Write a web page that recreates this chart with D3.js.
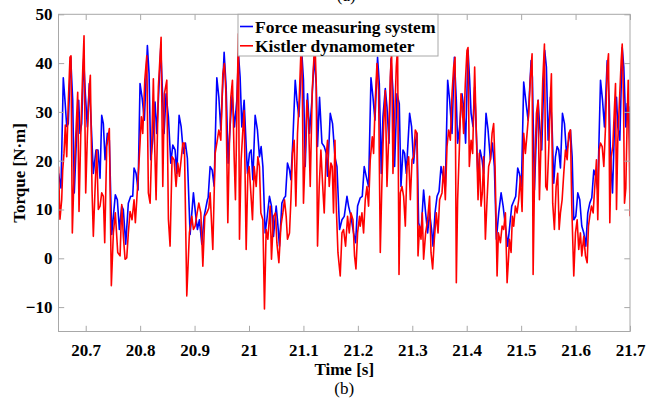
<!DOCTYPE html>
<html>
<head>
<meta charset="utf-8">
<script src="https://cdn.jsdelivr.net/npm/d3@7"></script>
<style>
  html, body { margin: 0; padding: 0; background: #fff; }
  svg { display: block; }
  text { font-family: "Liberation Serif", "Times New Roman", serif; }
</style>
</head>
<body>
<svg id="chart" width="664" height="402"></svg>
<script>
// ---- data: [time s, torque N·m] ----
const forceSystem = [
[20.650,17.4],[20.6546,14.4],[20.6588,37.0],[20.6619,32.4],[20.6651,27.0],[20.6680,27.6],[20.6724,41.2],[20.6761,32.4],[20.6790,13.4],[20.6834,25.6],[20.6871,32.4],[20.6895,25.6],[20.6926,27.6],[20.6963,40.9],[20.6993,33.7],[20.7030,26.9],[20.7066,35.8],[20.7103,27.0],[20.7140,17.4],[20.7189,22.2],[20.7226,22.2],[20.7263,16.4],[20.7294,29.3],[20.7324,27.6],[20.7355,20.2],[20.7397,25.6],[20.7434,24.2],[20.7478,4.9],[20.7544,13.0],[20.7581,12.0],[20.7618,5.9],[20.7662,10.7],[20.7691,10.0],[20.7735,2.9],[20.7783,11.3],[20.7827,12.7],[20.7864,12.7],[20.7888,18.5],[20.7925,17.4],[20.7962,14.0],[20.7998,35.8],[20.8035,33.0],[20.8078,28.3],[20.8133,43.6],[20.8164,37.8],[20.8195,20.2],[20.8232,24.2],[20.8274,32.0],[20.8305,25.6],[20.8335,32.4],[20.8379,43.2],[20.8416,32.4],[20.8440,25.6],[20.8476,33.7],[20.8519,29.0],[20.8563,19.5],[20.8600,23.2],[20.8642,22.2],[20.8673,17.4],[20.8716,29.3],[20.8753,27.0],[20.8795,21.5],[20.8832,23.6],[20.8868,20.5],[20.8918,4.9],[20.8979,13.4],[20.9016,9.3],[20.9052,5.9],[20.9089,7.9],[20.9133,2.9],[20.9176,8.6],[20.9236,12.0],
[20.9249,12.4],[20.9286,18.8],[20.9323,18.1],[20.9359,14.8],[20.9409,37.0],[20.9446,33.0],[20.9482,26.3],[20.9543,42.2],[20.9580,35.1],[20.9617,19.5],[20.9653,27.0],[20.9690,33.4],[20.9733,26.9],[20.9777,32.4],[20.9806,41.9],[20.9837,37.1],[20.9868,26.9],[20.9911,32.4],[20.9948,22.9],[20.9972,17.4],[21.0008,21.5],[21.0040,22.2],[21.0071,16.1],[21.0113,29.3],[21.0155,26.3],[21.0192,20.8],[21.0223,22.9],[21.0255,18.8],[21.0297,5.2],[21.0328,7.9],[21.0376,12.7],[21.0413,10.7],[21.0450,4.5],[21.0499,10.7],[21.0523,7.9],[21.0560,2.5],[21.0604,11.3],[21.0647,12.4],[21.0671,12.7],[21.0707,19.5],[21.0744,18.1],[21.0770,16.1],[21.0806,24.2],[21.0849,36.5],[21.0880,32.4],[21.0917,29.0],[21.0972,41.8],[21.1001,36.5],[21.1033,18.8],[21.1075,33.7],[21.1112,25.6],[21.1156,32.4],[21.1198,41.2],[21.1235,35.8],[21.1259,22.9],[21.1296,33.0],[21.1340,23.6],[21.1382,22.9],[21.1419,21.5],[21.1443,16.8],[21.1493,29.7],[21.1535,27.6],[21.1579,20.8],[21.1616,18.8],[21.1664,5.9],[21.1708,7.9],[21.1750,8.6],[21.1800,12.7],[21.1829,10.7],[21.1873,8.6],[21.1921,5.2],[21.1958,3.2],[21.1995,10.7],[21.2044,12.4],
[21.2081,12.7],[21.2117,18.8],[21.2154,16.8],[21.2197,14.7],[21.2241,37.0],[21.2278,33.0],[21.2314,28.3],[21.2362,41.2],[21.2394,35.8],[21.2430,17.4],[21.2461,29.0],[21.2504,34.8],[21.2535,31.0],[21.2572,23.6],[21.2609,40.9],[21.2645,34.4],[21.2675,18.8],[21.2719,33.7],[21.2761,31.7],[21.2792,14.7],[21.2829,22.2],[21.2859,21.5],[21.2890,17.4],[21.2951,29.7],[21.2987,27.0],[21.3024,19.5],[21.3055,23.6],[21.3086,25.6],[21.3116,7.3],[21.3160,5.2],[21.3208,14.0],[21.3245,9.3],[21.3282,5.2],[21.3318,9.3],[21.3355,5.9],[21.3381,2.5],[21.3418,9.3],[21.3455,12.7],[21.3491,13.7],[21.3528,18.8],[21.3565,16.8],[21.3607,14.7],[21.3650,36.5],[21.3686,32.4],[21.3730,25.6],[21.3773,41.2],[21.3809,32.4],[21.3833,23.6],[21.3870,27.0],[21.3914,33.7],[21.3943,31.0],[21.3980,23.6],[21.4024,42.6],[21.4054,36.5],[21.4080,29.7],[21.4116,27.0],[21.4146,35.1],[21.4177,25.6],[21.4208,16.1],[21.4245,22.2],[21.4282,20.2],[21.4311,17.4],[21.4355,29.7],[21.4392,26.3],[21.4435,20.2],[21.4472,23.6],[21.4508,18.8],[21.4545,3.9],[21.4588,9.3],[21.4632,13.4],[21.4669,10.7],[21.4711,6.6],[21.4753,2.5],
[21.4827,10.7],[21.4863,11.7],[21.4900,12.7],[21.4937,18.5],[21.4968,17.4],[21.5005,14.7],[21.5047,36.1],[21.5084,32.4],[21.5128,28.3],[21.5183,40.5],[21.5207,37.1],[21.5244,14.0],[21.5281,25.6],[21.5312,32.4],[21.5341,27.0],[21.5378,22.2],[21.5433,42.6],[21.5464,39.2],[21.5496,24.2],[21.5538,33.0],[21.5569,26.9],[21.5599,15.4],[21.5630,20.8],[21.5661,22.9],[21.5691,22.2],[21.5722,18.5],[21.5759,29.7],[21.5796,27.6],[21.5833,21.5],[21.5864,23.6],[21.5906,26.3],[21.5937,20.8],[21.5967,7.9],[21.6004,8.6],[21.6041,13.4],[21.6077,12.0],[21.6114,6.6],[21.6151,5.2],[21.6188,2.5],[21.6224,9.3],[21.6261,11.3],[21.6298,12.4],[21.6335,18.1],[21.6371,16.8],[21.6408,14.0],[21.6458,36.5],[21.6495,32.4],[21.6531,26.9],[21.6581,40.5],[21.6618,32.4],[21.6642,20.8],[21.6679,13.4],[21.6715,26.9],[21.6752,33.0],[21.6776,26.9],[21.6813,24.2],[21.6857,43.2],[21.6886,39.2],[21.6923,26.9],[21.6949,31.7],[21.6978,31.0],[21.7000,22.9]
];

const kistler = [
[20.650,18.8],[20.6527,8.0],[20.6559,12.0],[20.6577,18.0],[20.6601,21.5],[20.6625,27.3],[20.6651,20.8],[20.6680,32.0],[20.6711,41.2],[20.6730,41.5],[20.6754,5.2],[20.6785,16.8],[20.6822,26.3],[20.6853,34.0],[20.6877,9.6],[20.6908,24.9],[20.6945,38.5],[20.6969,45.6],[20.7000,13.4],[20.7030,24.9],[20.7061,34.4],[20.7085,37.5],[20.7116,14.0],[20.7140,4.5],[20.7177,15.8],[20.7202,22.2],[20.7232,10.0],[20.7263,10.7],[20.7294,13.4],[20.7324,12.7],[20.7349,3.2],[20.7386,22.9],[20.7434,26.6],[20.7471,-5.6],[20.7508,5.2],[20.7544,9.3],[20.7588,1.2],[20.7631,0.5],[20.7662,11.0],[20.7691,4.6],[20.7723,-0.2],[20.7754,0.1],[20.7783,5.2],[20.7815,9.6],[20.7851,7.9],[20.7888,12.0],[20.7912,7.3],[20.7949,14.0],[20.7975,18.8],[20.7998,23.6],[20.8022,29.0],[20.8048,25.6],[20.8085,36.5],[20.8122,41.5],[20.8151,13.4],[20.8183,11.3],[20.8214,23.6],[20.8243,36.8],[20.8269,22.2],[20.8293,12.0],[20.8335,35.1],[20.8385,45.3],[20.8416,14.7],[20.8445,33.7],[20.8490,36.5],[20.8519,8.0],[20.8550,2.5],[20.8587,20.8],[20.8624,20.2],[20.8660,14.7],[20.8692,19.5],[20.8721,16.8],[20.8753,20.2],[20.8784,23.6],[20.8813,23.6],[20.8857,-7.7],[20.8905,5.2],[20.8949,8.6],[20.8979,5.9],[20.9010,6.6],[20.9047,9.3],[20.9078,11.3],[20.9115,9.3],[20.9152,-1.6],[20.9188,8.6],[20.9225,9.3],[20.9262,10.3],
[20.9286,13.4],[20.9335,1.8],[20.9378,21.5],[20.9409,23.6],[20.9446,26.3],[20.9482,24.2],[20.9519,37.8],[20.9548,39.9],[20.9574,34.4],[20.9611,7.3],[20.9641,24.2],[20.9666,33.0],[20.9696,36.5],[20.9727,20.8],[20.9751,12.0],[20.9782,33.0],[20.9806,46.0],[20.9825,3.9],[20.9856,20.2],[20.9887,26.3],[20.9911,30.3],[20.9948,1.8],[20.9979,17.4],[21.0003,18.8],[21.0034,13.4],[21.0064,7.9],[21.0095,18.8],[21.0132,14.7],[21.0163,20.8],[21.0192,18.8],[21.0218,9.3],[21.0255,7.9],[21.0284,-10.4],[21.0315,5.9],[21.0347,3.9],[21.0389,10.7],[21.0413,-0.2],[21.0450,8.6],[21.0487,9.3],[21.0512,3.2],[21.0549,-0.9],[21.0586,6.6],[21.0622,9.3],[21.0652,12.0],[21.0683,8.6],[21.0707,3.9],[21.0744,5.2],[21.0770,12.0],[21.0799,21.5],[21.0830,24.2],[21.0861,10.7],[21.0891,25.6],[21.0922,32.4],[21.0959,44.0],[21.0977,37.3],[21.1001,11.3],[21.1033,21.5],[21.1064,32.4],[21.1094,28.3],[21.1125,14.7],[21.1162,34.4],[21.1211,45.0],[21.1235,35.8],[21.1259,2.5],[21.1290,14.7],[21.1321,22.2],[21.1358,14.0],[21.1382,9.3],[21.1413,20.2],[21.1443,24.2],[21.1474,14.7],[21.1505,19.5],[21.1529,18.8],[21.1553,9.3],[21.1579,24.2],[21.1603,10.7],[21.1634,1.2],[21.1676,-3.6],[21.1708,5.2],[21.1737,5.9],[21.1774,2.5],[21.1811,8.6],[21.1842,5.2],[21.1873,9.3],[21.1910,7.9],[21.1939,0.5],[21.1965,-2.2],[21.1995,5.2],[21.2031,8.6],
[21.2044,6.6],[21.2075,9.3],[21.2105,5.2],[21.2136,12.0],[21.2167,14.7],[21.2197,10.7],[21.2228,20.2],[21.2265,24.9],[21.2289,21.5],[21.2320,32.4],[21.2351,39.9],[21.2381,34.4],[21.2412,1.2],[21.2443,16.1],[21.2473,26.9],[21.2504,34.4],[21.2535,14.7],[21.2565,24.2],[21.2596,37.1],[21.2620,42.6],[21.2645,17.4],[21.2675,28.3],[21.2706,39.2],[21.2730,43.2],[21.2756,-3.3],[21.2780,13.4],[21.2811,14.7],[21.2841,12.7],[21.2872,6.6],[21.2903,18.8],[21.2933,20.8],[21.2964,12.0],[21.2995,20.2],[21.3024,20.8],[21.3055,26.3],[21.3086,25.6],[21.3105,0.5],[21.3134,6.6],[21.3160,3.9],[21.3184,9.3],[21.3208,-0.2],[21.3245,5.2],[21.3282,7.9],[21.3318,12.7],[21.3344,1.2],[21.3374,-2.2],[21.3405,3.9],[21.3442,9.3],[21.3473,5.2],[21.3502,12.0],[21.3546,13.4],[21.3576,18.8],[21.3607,12.0],[21.3638,22.9],[21.3668,26.3],[21.3699,24.2],[21.3730,33.7],[21.3760,39.2],[21.3786,41.2],[21.3809,-5.0],[21.3833,12.0],[21.3864,22.2],[21.3895,33.7],[21.3919,31.0],[21.3943,25.6],[21.3974,35.8],[21.4005,42.6],[21.4024,43.2],[21.4048,18.8],[21.4080,24.2],[21.4109,21.5],[21.4146,39.2],[21.4177,25.6],[21.4208,12.0],[21.4232,21.5],[21.4263,10.7],[21.4287,13.4],[21.4311,20.8],[21.4343,3.9],[21.4374,12.0],[21.4403,18.8],[21.4435,20.2],[21.4466,25.6],[21.4495,27.6],[21.4521,18.8],[21.4558,-3.6],[21.4582,5.2],[21.4619,3.2],[21.4650,6.6],[21.4679,5.9],[21.4711,9.3],[21.4742,-5.0],[21.4771,0.5],
[21.4784,3.9],[21.4815,1.2],[21.4839,8.6],[21.4863,6.6],[21.4894,10.7],[21.4925,9.3],[21.4955,12.0],[21.4986,16.8],[21.5017,9.6],[21.5047,25.6],[21.5078,21.5],[21.5109,25.6],[21.5139,29.7],[21.5170,37.1],[21.5201,41.9],[21.5220,-3.3],[21.5249,18.8],[21.5281,29.7],[21.5312,32.4],[21.5336,12.0],[21.5367,24.2],[21.5397,36.5],[21.5428,43.9],[21.5452,14.7],[21.5477,14.0],[21.5507,22.2],[21.5538,33.0],[21.5556,37.8],[21.5580,11.3],[21.5611,5.9],[21.5643,14.7],[21.5672,17.4],[21.5698,5.9],[21.5722,9.3],[21.5753,12.0],[21.5783,17.4],[21.5814,22.2],[21.5845,20.2],[21.5874,25.6],[21.5906,26.3],[21.5930,10.7],[21.5967,-3.6],[21.5998,5.2],[21.6029,7.9],[21.6058,1.8],[21.6089,5.2],[21.6114,0.5],[21.6151,4.5],[21.6182,0.5],[21.6213,-0.9],[21.6237,6.6],[21.6261,8.6],[21.6292,10.7],[21.6323,9.3],[21.6353,14.7],[21.6384,20.2],[21.6408,7.9],[21.6434,22.2],[21.6458,23.6],[21.6489,22.9],[21.6519,18.8],[21.6550,26.9],[21.6581,39.2],[21.6605,41.9],[21.6629,7.3],[21.6654,20.8],[21.6684,22.9],[21.6710,29.7],[21.6734,35.8],[21.6752,10.0],[21.6776,24.2],[21.6807,32.4],[21.6838,40.5],[21.6857,43.9],[21.6881,32.4],[21.6899,11.3],[21.6923,14.3],[21.6949,29.0],[21.6967,36.5],[21.6991,18.8],[21.7000,8.6]
];

const xTicks = [20.7, 20.8, 20.9, 21, 21.1, 21.2, 21.3, 21.4, 21.5, 21.6, 21.7];
const yTicks = [-10, 0, 10, 20, 30, 40, 50];
const xDomain = [20.65, 21.7];
const yDomain = [-15, 50];
const seriesNames = ["Force measuring system", "Kistler dynamometer"];
const seriesColors = ["#0000ff", "#ff0000"];

// ---- layout ----
const L = 58.5, R = 630, T = 14.3, B = 331.5;
const svg = d3.select("#chart");
const x = d3.scaleLinear().domain(xDomain).range([L, R]);
const y = d3.scaleLinear().domain(yDomain).range([B, T]);
const frameColor = "#a8a8a8";
const tickLen = 5.7;

svg.append("rect").attr("width", 664).attr("height", 402).attr("fill", "#fff");

svg.append("defs").append("clipPath").attr("id", "clip")
  .append("rect").attr("x", L).attr("y", T).attr("width", R - L).attr("height", B - T);

// lines
const line = d3.line().x(d => x(d[0])).y(d => y(d[1]));
const g = svg.append("g").attr("clip-path", "url(#clip)");
[forceSystem, kistler].forEach((data, i) => {
  g.append("path").datum(data)
    .attr("d", line)
    .attr("fill", "none")
    .attr("stroke", seriesColors[i])
    .attr("stroke-width", 1.6)
    .attr("stroke-linejoin", "round");
});

// axes (ticks inward on all four sides)
function styleAxis(sel) {
  sel.select(".domain").remove();
  sel.selectAll(".tick line").attr("stroke", frameColor);
  sel.selectAll("text")
    .attr("fill", "#000")
    .style("font-family", '"Liberation Serif", serif')
    .style("font-weight", "bold")
    .style("font-size", "17px");
}
svg.append("g").attr("transform", `translate(0,${B})`)
  .call(d3.axisBottom(x).tickValues(xTicks).tickFormat(d3.format("")).tickSize(-tickLen).tickPadding(12))
  .call(styleAxis);
svg.append("g").attr("transform", `translate(0,${T})`)
  .call(d3.axisTop(x).tickValues(xTicks).tickFormat("").tickSize(-tickLen))
  .call(styleAxis);
svg.append("g").attr("transform", `translate(${L},0)`)
  .call(d3.axisLeft(y).tickValues(yTicks).tickFormat(d3.format("")).tickSize(-tickLen).tickPadding(6))
  .call(styleAxis);
svg.append("g").attr("transform", `translate(${R},0)`)
  .call(d3.axisRight(y).tickValues(yTicks).tickFormat("").tickSize(-tickLen))
  .call(styleAxis);

// frame
svg.append("rect").attr("x", L).attr("y", T).attr("width", R - L).attr("height", B - T)
  .attr("fill", "none").attr("stroke", frameColor).attr("stroke-width", 1);

// axis titles
svg.append("text").attr("x", (L + R) / 2).attr("y", 375)
  .attr("text-anchor", "middle").style("font-weight", "bold").style("font-size", "17px")
  .text("Time [s]");
svg.append("text").attr("transform", `translate(25,${(T + B) / 2}) rotate(-90)`)
  .attr("text-anchor", "middle").style("font-weight", "bold").style("font-size", "17px")
  .text("Torque [N·m]");
svg.append("text").attr("x", (L + R) / 2).attr("y", 394)
  .attr("text-anchor", "middle").style("font-size", "17px").text("(b)");
svg.append("text").attr("x", (L + R) / 2 + 2).attr("y", 1)
  .attr("text-anchor", "middle").style("font-size", "17px").text("(a)");

// legend
const lg = svg.append("g");
lg.append("rect").attr("x", 238).attr("y", T).attr("width", 200).attr("height", 41.7)
  .attr("fill", "#fff").attr("stroke", frameColor).attr("stroke-width", 1);
seriesNames.forEach((name, i) => {
  const yy = 26.5 + i * 19.3;
  lg.append("line").attr("x1", 240).attr("x2", 253).attr("y1", yy).attr("y2", yy)
    .attr("stroke", seriesColors[i]).attr("stroke-width", 1.6);
  lg.append("text").attr("x", 255).attr("y", yy + 6)
    .style("font-weight", "bold").style("font-size", "17.5px").text(name);
});
</script>
</body>
</html>
